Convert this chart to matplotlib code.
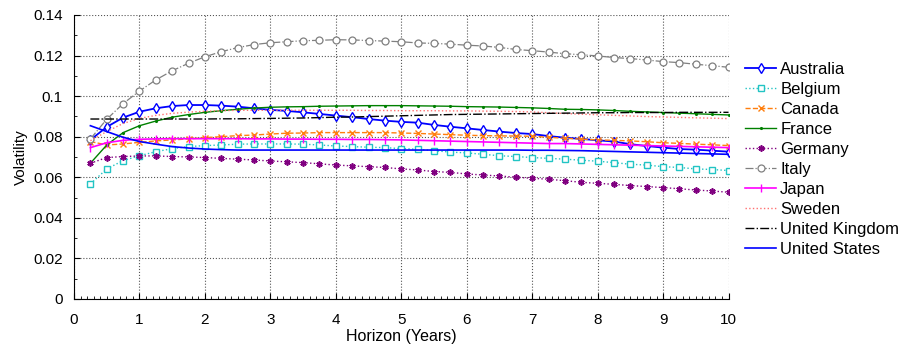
import numpy as np
import matplotlib
matplotlib.use("Agg")
from matplotlib import pyplot as plt
from matplotlib.ticker import MultipleLocator

plt.rcParams['font.family'] = ['Liberation Sans', 'DejaVu Sans']

horizon = [0.25 * k for k in range(1, 41)]

australia = [0.0784, 0.0848, 0.0894, 0.0923, 0.0940, 0.0951, 0.0956, 0.0956, 0.0953, 0.0948,
             0.0940, 0.0932, 0.0927, 0.0920, 0.0912, 0.0904, 0.0896, 0.0887, 0.0879, 0.0873,
             0.0869, 0.0858, 0.0849, 0.0841, 0.0833, 0.0825, 0.0818, 0.0813, 0.0803, 0.0795,
             0.0789, 0.0782, 0.0776, 0.0763, 0.0754, 0.0746, 0.0739, 0.0736, 0.0731, 0.0726]
belgium = [0.0567, 0.0641, 0.0682, 0.0706, 0.0726, 0.0741, 0.0751, 0.0756, 0.0759, 0.0763,
           0.0764, 0.0764, 0.0764, 0.0763, 0.0759, 0.0754, 0.0751, 0.0748, 0.0746, 0.0741,
           0.0738, 0.0731, 0.0724, 0.0720, 0.0713, 0.0706, 0.0702, 0.0697, 0.0693, 0.0689,
           0.0684, 0.0679, 0.0672, 0.0664, 0.0660, 0.0652, 0.0648, 0.0641, 0.0638, 0.0633]
canada = [0.0776, 0.0759, 0.0764, 0.0772, 0.0779, 0.0784, 0.0789, 0.0795, 0.0800, 0.0805,
          0.0808, 0.0813, 0.0817, 0.0818, 0.0820, 0.0820, 0.0820, 0.0820, 0.0820, 0.0818,
          0.0816, 0.0813, 0.0810, 0.0807, 0.0805, 0.0804, 0.0803, 0.0802, 0.0797, 0.0792,
          0.0788, 0.0784, 0.0782, 0.0779, 0.0775, 0.0770, 0.0767, 0.0763, 0.0760, 0.0756]
france = [0.0669, 0.0759, 0.0820, 0.0854, 0.0877, 0.0896, 0.0909, 0.0920, 0.0928, 0.0935,
          0.0941, 0.0945, 0.0947, 0.0948, 0.0950, 0.0951, 0.0952, 0.0953, 0.0953, 0.0953,
          0.0952, 0.0951, 0.0950, 0.0948, 0.0947, 0.0946, 0.0944, 0.0942, 0.0939, 0.0935,
          0.0934, 0.0932, 0.0929, 0.0925, 0.0922, 0.0919, 0.0916, 0.0913, 0.0910, 0.0907]
germany = [0.0669, 0.0697, 0.0702, 0.0705, 0.0705, 0.0702, 0.0700, 0.0697, 0.0693, 0.0689,
           0.0685, 0.0680, 0.0676, 0.0672, 0.0666, 0.0660, 0.0656, 0.0652, 0.0648, 0.0641,
           0.0636, 0.0628, 0.0624, 0.0616, 0.0611, 0.0606, 0.0600, 0.0595, 0.0590, 0.0583,
           0.0575, 0.0570, 0.0565, 0.0559, 0.0554, 0.0549, 0.0543, 0.0537, 0.0532, 0.0526]
italy = [0.0789, 0.0886, 0.0963, 0.1025, 0.1080, 0.1125, 0.1162, 0.1194, 0.1219, 0.1239,
         0.1254, 0.1263, 0.1268, 0.1273, 0.1275, 0.1278, 0.1277, 0.1274, 0.1271, 0.1268,
         0.1262, 0.1260, 0.1256, 0.1251, 0.1247, 0.1240, 0.1230, 0.1224, 0.1217, 0.1209,
         0.1204, 0.1198, 0.1190, 0.1185, 0.1178, 0.1170, 0.1165, 0.1157, 0.1150, 0.1142]
japan = [0.0746, 0.0770, 0.0782, 0.0787, 0.0789, 0.0790, 0.0790, 0.0790, 0.0790, 0.0790,
         0.0789, 0.0789, 0.0788, 0.0788, 0.0787, 0.0787, 0.0786, 0.0786, 0.0785, 0.0784,
         0.0782, 0.0780, 0.0778, 0.0776, 0.0774, 0.0772, 0.0770, 0.0768, 0.0766, 0.0766,
         0.0764, 0.0762, 0.0760, 0.0758, 0.0756, 0.0754, 0.0752, 0.0750, 0.0748, 0.0746]
sweden = [0.0780, 0.0825, 0.0865, 0.0890, 0.0905, 0.0915, 0.0921, 0.0925, 0.0928, 0.0930,
          0.0930, 0.0930, 0.0930, 0.0930, 0.0930, 0.0930, 0.0930, 0.0929, 0.0929, 0.0928,
          0.0928, 0.0928, 0.0927, 0.0927, 0.0926, 0.0925, 0.0924, 0.0922, 0.0918, 0.0914,
          0.0911, 0.0908, 0.0905, 0.0902, 0.0899, 0.0897, 0.0895, 0.0893, 0.0891, 0.0889]
united_kingdom = [0.0887, 0.0887, 0.0887, 0.0887, 0.0887, 0.0887, 0.0887, 0.0887, 0.0888, 0.0888,
                  0.0889, 0.0890, 0.0891, 0.0892, 0.0894, 0.0896, 0.0897, 0.0899, 0.0901, 0.0903,
                  0.0905, 0.0907, 0.0909, 0.0910, 0.0911, 0.0912, 0.0913, 0.0914, 0.0915, 0.0916,
                  0.0917, 0.0918, 0.0918, 0.0919, 0.0919, 0.0919, 0.0920, 0.0920, 0.0920, 0.0920]
united_states = [0.0854, 0.0825, 0.0797, 0.0776, 0.0763, 0.0751, 0.0744, 0.0739, 0.0736, 0.0734,
                 0.0734, 0.0734, 0.0734, 0.0734, 0.0734, 0.0734, 0.0734, 0.0734, 0.0734, 0.0734,
                 0.0734, 0.0734, 0.0734, 0.0734, 0.0734, 0.0734, 0.0734, 0.0733, 0.0733, 0.0732,
                 0.0731, 0.0729, 0.0727, 0.0725, 0.0723, 0.0721, 0.0719, 0.0717, 0.0715, 0.0713]

fig = plt.figure(figsize=(9.04, 3.48), dpi=100)
ax = fig.add_axes([0.0819, 0.141, 0.724, 0.816])

ax.plot(horizon, australia, color='blue', linestyle='-', marker='d', markersize=5.5,
        markerfacecolor='white', markeredgewidth=1.0, linewidth=1.3, label='Australia')
ax.plot(horizon, belgium, color='#22c4c4', linestyle=':', marker='s', markersize=4.5,
        markerfacecolor='white', markeredgewidth=1.0, linewidth=1.0, label='Belgium')
ax.plot(horizon, canada, color='#ff7f0e', linestyle='--', marker='x', markersize=4,
        linewidth=1.0, label='Canada')
ax.plot(horizon, france, color='green', linestyle='-', marker='.', markersize=2.5,
        linewidth=1.0, label='France')
ax.plot(horizon, germany, color='purple', linestyle=':', marker=(6, 2, 0), markersize=4.5,
        markeredgewidth=1.2, linewidth=1.0, label='Germany')
ax.plot(horizon, italy, color='gray', linestyle='-.', marker='o', markersize=5,
        markerfacecolor='white', markeredgewidth=0.9, linewidth=0.9, label='Italy')
ax.plot(horizon, japan, color='magenta', linestyle='-', marker='|', markersize=6,
        linewidth=1.2, label='Japan')
ax.plot(horizon, sweden, color='#ff7070', linestyle=':', linewidth=1.0, label='Sweden')
ax.plot(horizon, united_kingdom, color='black', linestyle='-.', linewidth=1.0,
        label='United Kingdom')
ax.plot(horizon, united_states, color='blue', linestyle='-', linewidth=1.2,
        label='United States')

ax.set_xlim(0, 10)
ax.set_ylim(0, 0.14)
ax.set_xticks(np.arange(0, 11, 1))
ax.set_yticks(np.arange(0, 0.141, 0.02))
ax.set_yticklabels(['0', '0.02', '0.04', '0.06', '0.08', '0.1', '0.12', '0.14'])
ax.xaxis.set_minor_locator(MultipleLocator(0.1))
ax.yaxis.set_minor_locator(MultipleLocator(0.01))
ax.tick_params(which='both', direction='in', labelsize=11)
ax.tick_params(which='major', length=4)
ax.tick_params(which='minor', length=2)
ax.tick_params(axis='x', which='major', pad=10)
ax.tick_params(axis='y', which='major', pad=8)
ax.grid(True, which='major', linestyle=':', color='#555555', linewidth=0.8)
ax.spines['top'].set_visible(False)
ax.spines['right'].set_visible(False)
ax.set_xlabel('Horizon (Years)', fontsize=11.5, labelpad=1.5)
ax.set_ylabel('Volatility', fontsize=11, labelpad=4)

ax.legend(loc='center left', bbox_to_anchor=(1.0, 0.49), frameon=False, fontsize=12,
          handlelength=1.85, labelspacing=0.3, borderaxespad=0.6, handletextpad=0.25)

fig.savefig('out.png', dpi=100)
